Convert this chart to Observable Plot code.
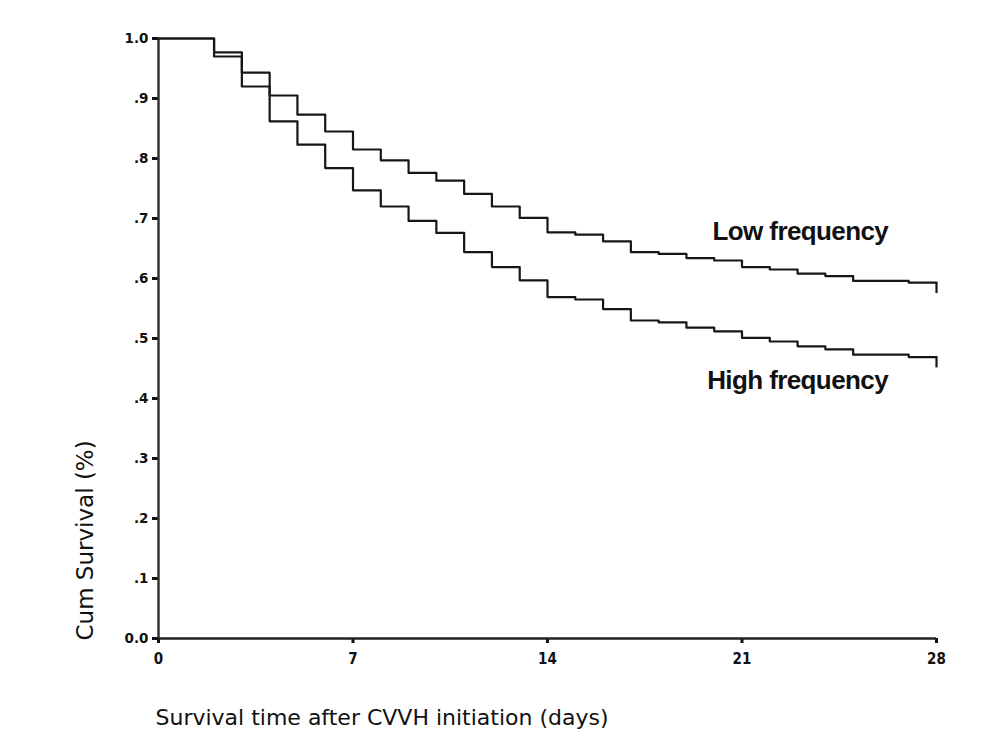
<!DOCTYPE html>
<html>
<head>
<meta charset="utf-8">
<script src="https://cdn.jsdelivr.net/npm/d3@7"></script>
<script src="https://cdn.jsdelivr.net/npm/@observablehq/plot@0.6"></script>
<style>
  html, body { margin: 0; padding: 0; background: #fff; }
  #chart { width: 1004px; height: 753px; }
</style>
</head>
<body>
<div id="chart"></div>
<script>
// ---- data ----
const days = [0,1,2,3,4,5,6,7,8,9,10,11,12,13,14,15,16,17,18,19,20,21,22,23,24,25,26,27,28];
const lowFrequency = [1.0,1.0,0.977,0.943,0.905,0.873,0.845,0.815,0.797,0.776,0.763,0.741,0.720,0.701,0.677,0.673,0.662,0.644,0.641,0.634,0.630,0.619,0.615,0.608,0.604,0.596,0.596,0.593,0.593];
const highFrequency = [1.0,1.0,0.970,0.920,0.862,0.823,0.784,0.747,0.720,0.696,0.676,0.644,0.619,0.597,0.569,0.565,0.549,0.530,0.527,0.518,0.512,0.501,0.495,0.487,0.482,0.473,0.473,0.469,0.469];
const seriesNames = ["Low frequency", "High frequency"];
const xTicks = [0, 7, 14, 21, 28];
const yTicks = [0, 0.1, 0.2, 0.3, 0.4, 0.5, 0.6, 0.7, 0.8, 0.9, 1.0];
const xLabel = "Survival time after CVVH initiation (days)";
const yLabel = "Cum Survival (%)";

const seriesValues = [lowFrequency, highFrequency];
const rows = [];
seriesNames.forEach((name, i) => {
  days.forEach((d, j) => rows.push({series: name, day: d, surv: seriesValues[i][j]}));
});
const lastRows = seriesNames.map((name, i) => ({series: name, day: days[days.length - 1], surv: seriesValues[i][seriesValues[i].length - 1]}));
// annotation anchor for each series label (data units)
const labelAt = {"Low frequency": {day: 23.1, surv: 0.678}, "High frequency": {day: 23.0, surv: 0.43}};

const fmtY = v => (v === 0 ? "0.0" : v === 1 ? "1.0" : d3.format(".1f")(v).replace(/^0/, ""));

const chart = Plot.plot({
  width: 1004,
  height: 753,
  marginLeft: 158,
  marginRight: 68,
  marginTop: 38,
  marginBottom: 115,
  style: {fontFamily: "DejaVu Sans, Verdana, sans-serif", background: "#fff", color: "#111"},
  x: {domain: [0, 28]},
  y: {domain: [0, 1]},
  marks: [
    Plot.axisY({ticks: yTicks, tickFormat: fmtY, tickSize: 6, tickPadding: 4, strokeWidth: 3, fontSize: 13.5, fontWeight: "bold", label: null, fill: "#111"}),
    Plot.axisX({ticks: xTicks, tickSize: 5, tickPadding: 10, strokeWidth: 3, fontSize: 15, fontWeight: "bold", fontFamily: "Liberation Sans Narrow, DejaVu Sans Condensed, sans-serif", label: null, fill: "#111"}),
    Plot.ruleX([0], {stroke: "#333", strokeWidth: 2.5}),
    Plot.ruleY([0], {stroke: "#222", strokeWidth: 2.5}),
    Plot.line(rows, {x: "day", y: "surv", z: "series", curve: "step-after", stroke: "#161616", strokeWidth: 2.2}),
    Plot.ruleX(lastRows, {x: "day", y1: "surv", y2: d => d.surv - 0.018, stroke: "#161616", strokeWidth: 2.2}),
    Plot.text(seriesNames, {x: d => labelAt[d].day, y: d => labelAt[d].surv, text: d => d, fontFamily: "Liberation Sans, Arial, sans-serif", fontWeight: "bold", fontSize: 26, fill: "#111", textAnchor: "middle"}),
    Plot.text([xLabel], {frameAnchor: "bottom-left", text: d => d, dx: -3, dy: 86, textAnchor: "start", fontSize: 22, fill: "#111"}),
    Plot.text([yLabel], {frameAnchor: "bottom-left", text: d => d, dx: -66, dy: 2, rotate: -90, textAnchor: "start", fontSize: 23, fill: "#111"})
  ]
});
d3.select(chart).selectAll("text").filter(function () { return seriesNames.includes(this.textContent); }).attr("letter-spacing", "-0.6px");
document.getElementById("chart").append(chart);
</script>
</body>
</html>
